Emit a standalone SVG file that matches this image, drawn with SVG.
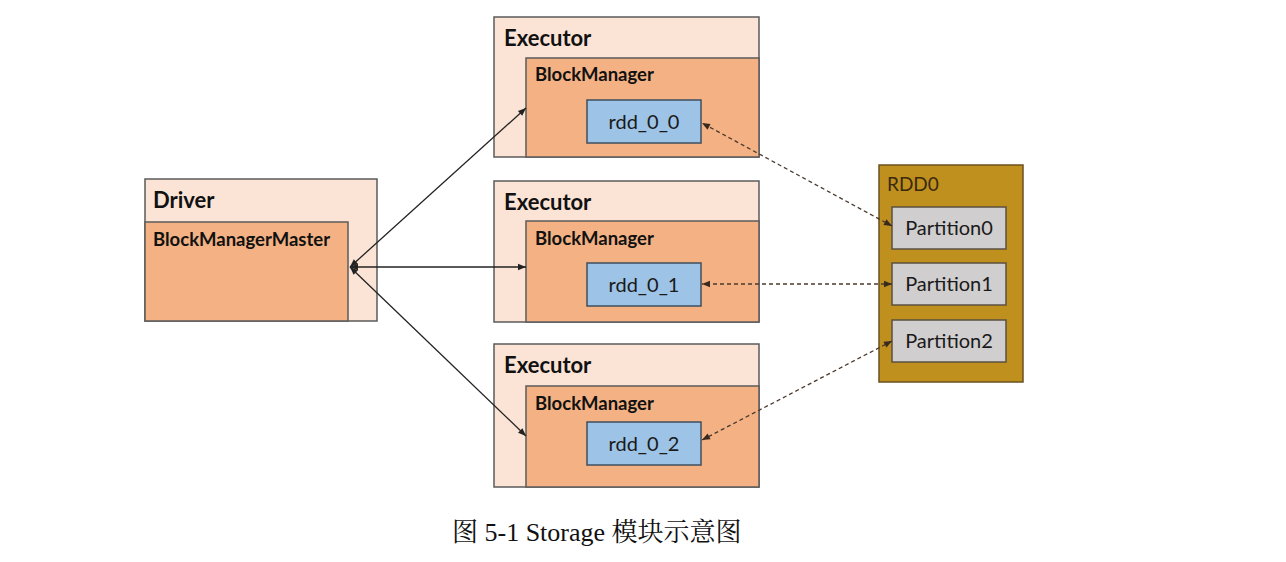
<svg xmlns="http://www.w3.org/2000/svg" width="1286" height="562" viewBox="0 0 1286 562">
<defs>
<marker id="ah" viewBox="0 0 10 10" refX="10" refY="5" markerWidth="11" markerHeight="8" markerUnits="userSpaceOnUse" orient="auto-start-reverse">
<path d="M0,1 L10,5 L0,9 Z" fill="#222"/>
</marker>
<marker id="dh" viewBox="0 0 10 10" refX="10" refY="5" markerWidth="12" markerHeight="8" markerUnits="userSpaceOnUse" orient="auto-start-reverse">
<path d="M0,1 L10,5 L0,9 Z" fill="#3a2a1e"/>
</marker>
<style>
.outer{fill:#FBE4D6;stroke:#5b5b5b;stroke-width:1.5}
.inner{fill:#F4B183;stroke:#5b5b5b;stroke-width:1.5}
.rdd{fill:#9DC3E6;stroke:#3f4f5f;stroke-width:1.5}
.rdd0{fill:#C0901E;stroke:#6a5020;stroke-width:1.5}
.part{fill:#D0CECE;stroke:#5b5040;stroke-width:1.5}
.t1{font-family:Lato,"Open Sans",sans-serif;font-weight:bold;font-size:22px;fill:#111}
.t2{font-family:Lato,"Open Sans",sans-serif;font-weight:bold;font-size:18.5px;fill:#111}
.t3{font-family:Lato,"Open Sans",sans-serif;font-size:20px;fill:#1a1a1a;text-anchor:middle}
.t4{font-family:Lato,"Open Sans",sans-serif;font-size:19px;fill:#3a2a10}
.cap{font-family:"Liberation Serif","Noto Serif CJK SC","Noto Sans CJK SC",serif;font-size:26px;fill:#111}
.solid{stroke:#222;stroke-width:1.3;fill:none}
.dash{stroke:#4a3a2e;stroke-width:1.3;fill:none;stroke-dasharray:4,3}
</style>
</defs>
<rect width="1286" height="562" fill="#fff"/>
<g id="driver">
<rect class="outer" x="145" y="179" width="232" height="142"/>
<rect class="inner" x="145" y="222" width="203" height="99"/>
<text class="t1" x="153" y="208">Driver</text>
<text class="t2" x="153" y="246">BlockManagerMaster</text>
</g>
<g id="executor0">
<rect class="outer" x="494" y="17" width="265" height="140"/>
<rect class="inner" x="526" y="58" width="233" height="99"/>
<text class="t1" x="504" y="46">Executor</text>
<text class="t2" x="535" y="81">BlockManager</text>
<rect class="rdd" x="587" y="100" width="114" height="43"/>
<text class="t3" x="644" y="129">rdd_0_0</text>
</g>
<g id="executor1">
<rect class="outer" x="494" y="181" width="265" height="141"/>
<rect class="inner" x="526" y="221" width="233" height="101"/>
<text class="t1" x="504" y="210">Executor</text>
<text class="t2" x="535" y="245">BlockManager</text>
<rect class="rdd" x="587" y="263" width="114" height="43"/>
<text class="t3" x="644" y="292">rdd_0_1</text>
</g>
<g id="executor2">
<rect class="outer" x="494" y="344" width="265" height="143"/>
<rect class="inner" x="526" y="386" width="233" height="101"/>
<text class="t1" x="504" y="373">Executor</text>
<text class="t2" x="535" y="410">BlockManager</text>
<rect class="rdd" x="587" y="422" width="114" height="43"/>
<text class="t3" x="644" y="451">rdd_0_2</text>
</g>
<g id="rdd0">
<rect class="rdd0" x="879" y="165" width="144" height="217"/>
<text class="t4" x="887" y="191">RDD0</text>
<rect class="part" x="892" y="207" width="114" height="42"/>
<text class="t3" x="949" y="235">Partition0</text>
<rect class="part" x="892" y="263" width="114" height="42"/>
<text class="t3" x="949" y="291">Partition1</text>
<rect class="part" x="892" y="320" width="114" height="42"/>
<text class="t3" x="949" y="348">Partition2</text>
</g>
<g id="connectors">
<line class="solid" x1="350" y1="267" x2="526" y2="108" marker-start="url(#ah)" marker-end="url(#ah)"/>
<line class="solid" x1="350" y1="267" x2="526" y2="267" marker-start="url(#ah)" marker-end="url(#ah)"/>
<line class="solid" x1="350" y1="267" x2="526" y2="436" marker-start="url(#ah)" marker-end="url(#ah)"/>
<line class="dash" x1="892" y1="226" x2="702" y2="123" marker-start="url(#dh)" marker-end="url(#dh)"/>
<line class="dash" x1="892" y1="284" x2="702" y2="284" marker-start="url(#dh)" marker-end="url(#dh)"/>
<line class="dash" x1="892" y1="341" x2="702" y2="440" marker-start="url(#dh)" marker-end="url(#dh)"/>
</g>
<text class="cap" x="452" y="541">图 5-1 Storage 模块示意图</text>
</svg>
